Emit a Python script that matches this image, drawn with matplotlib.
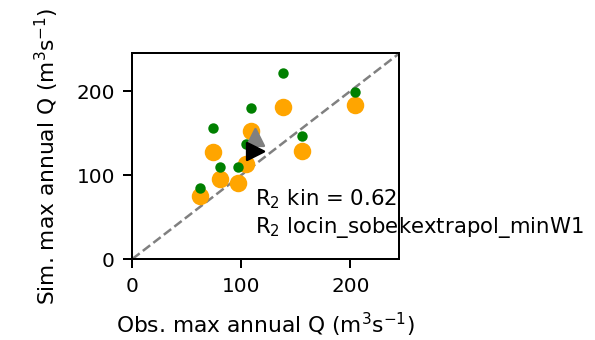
import numpy as np
import matplotlib
matplotlib.use("Agg")
import matplotlib.pyplot as plt

plt.rcParams['font.size'] = 8

obs = [62, 74, 80, 96.5, 104, 108.5, 138.5, 156, 204]
sim_locin = [75, 127, 95, 91, 113, 152, 181, 129, 184]
sim_kin = [84, 156, 110, 109, 137, 180, 222, 146, 199]

# means of each set
mean_obs = [112.5]
mean_locin = [128.5]
mean_kin = [145.5]

lim = 245

fig = plt.figure(figsize=(595 / 180, 340 / 180), dpi=180)
ax = fig.add_axes([0.2224, 0.2382, 0.4488, 0.605])

ax.plot([0, lim], [0, lim], '--', color='grey', lw=1, zorder=1)
ax.scatter(obs, sim_locin, color='orange', zorder=2)
ax.scatter(obs, sim_kin, s=10, color='green', zorder=3)
ax.scatter(mean_obs, mean_kin, s=45, marker='^', color='grey', zorder=4)
ax.scatter(mean_obs, mean_locin, s=45, marker='>', color='black', zorder=5)

ax.text(mean_obs[0], 31, 'R$_2$ kin = 0.62\nR$_2$ locin_sobekextrapol_minW1',
        fontsize=8.5, clip_on=False)

ax.set_xlim(0, lim)
ax.set_ylim(0, lim)
ax.set_xticks([0, 100, 200])
ax.set_yticks([0, 100, 200])
ax.set_xlabel('Obs. max annual Q (m$^3$s$^{-1}$)', fontsize=8.7, labelpad=6)
ax.set_ylabel('Sim. max annual Q (m$^3$s$^{-1}$)', fontsize=8.7, labelpad=6)

fig.savefig('out.png', dpi=180)
